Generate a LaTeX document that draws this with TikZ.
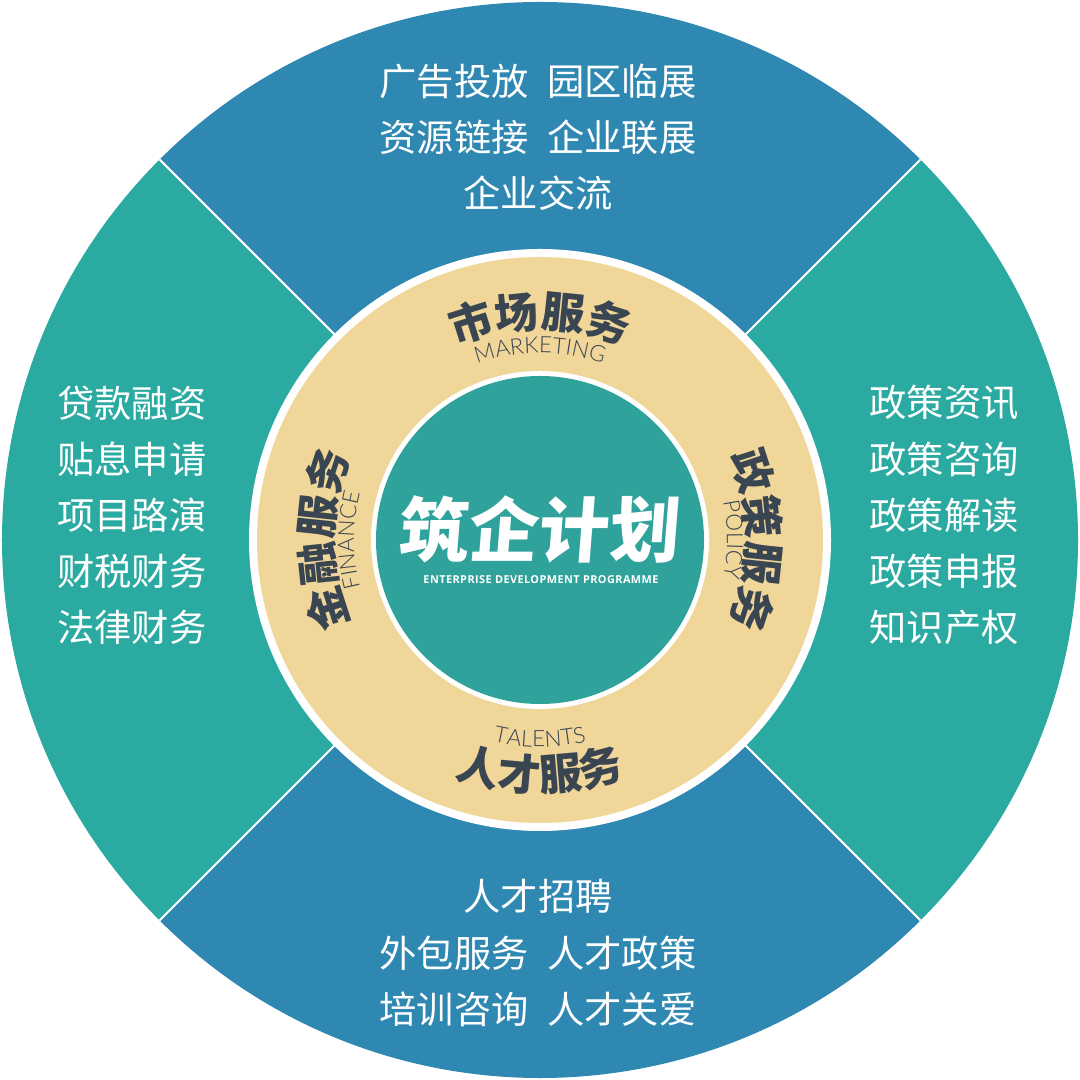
\documentclass[tikz,border=0pt]{standalone}
\usepackage{fontspec}
\usetikzlibrary{decorations.text}
\newfontfamily\cjk{Noto Sans CJK SC}
\newfontfamily\cjkblack{Noto Sans CJK SC Black}
\newfontfamily\latinlight{Lato Light}
\newfontfamily\latinbold[LetterSpace=4]{Open Sans}
\definecolor{secblue}{HTML}{2E88B1}
\definecolor{secteal}{HTML}{2BAAA1}
\definecolor{ringtan}{HTML}{F0D699}
\definecolor{hubteal}{HTML}{2FA39B}
\definecolor{ink}{HTML}{3A4552}
\newcommand{\svcfont}{\cjk\bfseries\fontsize{12.3}{14}\selectfont\color{ink}}
\newcommand{\engfont}{\latinlight\fontsize{6.4}{8}\selectfont\color{ink}}
\tikzset{
  lst/.style={font=\cjk\fontsize{10.6}{15.95}\selectfont,text=white,align=center,inner sep=0pt},
  curved/.style={decorate,decoration={text along path,text align=center,text={#1}}}
}
\begin{document}
\begin{tikzpicture}[x=.01cm,y=.01cm]
\useasboundingbox (-540,-540) rectangle (540,540);
% outer sectors
\foreach \a/\col in {45/secblue,135/secteal,225/secblue,315/secteal}
  \fill[\col] (0,0) -- (\a:538) arc[start angle=\a,delta angle=90,radius=538] -- cycle;
\foreach \a in {45,135,225,315}
  \draw[white,line width=.6pt] (0,0) -- (\a:538);
% ring and hub
\fill[white] (0,0) circle[radius=291];
\fill[ringtan] (0,0) circle[radius=283];
\fill[white] (0,0) circle[radius=169];
\fill[hubteal] (0,0) circle[radius=164];
% service names on the ring
\path[curved={|\svcfont|市场服务}] (150:212) arc[start angle=150,end angle=30,radius=212];
\path[curved={|\svcfont|人才服务}] (210:251) arc[start angle=210,end angle=330,radius=251];
\path[curved={|\svcfont|政策服务}] (60:207) arc[start angle=60,end angle=-60,radius=207];
\path[curved={|\svcfont|金融服务}] (240:207) arc[start angle=240,end angle=120,radius=207];
\path[curved={|\engfont|MARKETING}] (150:187) arc[start angle=150,end angle=30,radius=187];
\path[curved={|\engfont|TALENTS}] (210:207) arc[start angle=210,end angle=330,radius=207];
\path[curved={|\engfont|POLICY}] (60:187) arc[start angle=60,end angle=-60,radius=187];
\path[curved={|\engfont|FINANCE}] (240:186) arc[start angle=240,end angle=120,radius=186];
% hub title
\node[font=\cjkblack\fontsize{20}{22}\selectfont,text=white,inner sep=0pt,xslant=.08] (title) at (0,10) {筑企计划};
\node[font=\latinbold\bfseries\fontsize{3.1}{4}\selectfont,text=white,inner sep=0pt] (subtitle) at (1,-40) {ENTERPRISE DEVELOPMENT PROGRAMME};
% service lists
\node[lst] (marketing) at (-2,403) {广告投放\hspace{.5em}园区临展\\资源链接\hspace{.5em}企业联展\\企业交流};
\node[lst] (talents) at (-2,-413) {人才招聘\\外包服务\hspace{.5em}人才政策\\培训咨询\hspace{.5em}人才关爱};
\node[lst] (finance) at (-408,25) {贷款融资\\贴息申请\\项目路演\\财税财务\\法律财务};
\node[lst] (policy) at (404,25) {政策资讯\\政策咨询\\政策解读\\政策申报\\知识产权};
\end{tikzpicture}
\end{document}
